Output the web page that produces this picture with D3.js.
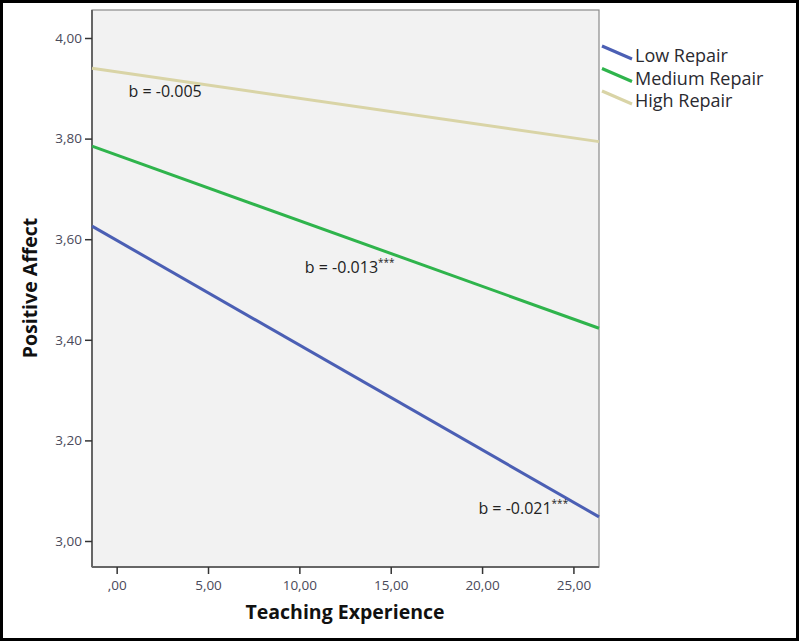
<!DOCTYPE html>
<html><head><meta charset="utf-8">
<script src="https://cdn.jsdelivr.net/npm/d3@7"></script>
<style>body{margin:0;background:#fff}svg{display:block}</style>
</head><body>
<script>
// Data
const seriesNames = ["Low Repair", "Medium Repair", "High Repair"];
const xRange = [-1.35, 26.4];            // teaching experience span of the fitted lines
const lowValues = [3.626, 3.048];        // Positive Affect at start / end
const mediumValues = [3.785, 3.423];
const highValues = [3.940, 3.794];
const xTicks = [0, 5, 10, 15, 20, 25];
const yTicks = [3.0, 3.2, 3.4, 3.6, 3.8, 4.0];
const slopeLabels = [
  {text: "b = -0.005", stars: "", x: 0.65, y: 3.882},
  {text: "b = -0.013", stars: "***", x: 10.3, y: 3.532},
  {text: "b = -0.021", stars: "***", x: 19.8, y: 3.054}
];
const colors = ["#4b5fb4", "#2fb44c", "#d9d4a6"];

const W = 800, H = 642;
const svg = d3.select("body").append("svg").attr("width", W).attr("height", H);
const L = 92, R = 599, T = 10, B = 567;
const x = d3.scaleLinear().domain(xRange).range([L, R]);
const y = d3.scaleLinear().domain([3.0, 4.0]).range([541, 38]);

// outer frame
svg.append("rect").attr("x", 1.5).attr("y", 1.5).attr("width", W - 4).attr("height", H - 4)
  .attr("fill", "#fff").attr("stroke", "#000").attr("stroke-width", 3);

// plot background
svg.append("rect").attr("x", L).attr("y", T).attr("width", R - L).attr("height", B - T)
  .attr("fill", "#f2f2f2").attr("stroke", "#8a8a8a").attr("stroke-width", 1.2);

const fmt = v => d3.format(".2f")(v).replace(".", ",").replace(/^0,/, ",");
const tickFont = "'Open Sans', sans-serif";

// y axis
const yAxis = svg.append("g").attr("transform", `translate(${L},0)`)
  .call(d3.axisLeft(y).tickValues(yTicks).tickFormat(fmt).tickSize(7).tickPadding(3));
yAxis.select(".domain").attr("d", `M0,${T}V${B}`).attr("stroke", "#666").attr("stroke-width", 2);
yAxis.selectAll(".tick line").attr("stroke", "#333").attr("stroke-width", 1.5);
yAxis.selectAll("text").attr("font-family", tickFont).attr("font-size", 13.5).attr("fill", "#4a4a5a");

// x axis
const xAxis = svg.append("g").attr("transform", `translate(0,${B})`)
  .call(d3.axisBottom(x).tickValues(xTicks).tickFormat(fmt).tickSize(7).tickPadding(6));
xAxis.select(".domain").attr("d", `M${L},0H${R}`).attr("stroke", "#666").attr("stroke-width", 2);
xAxis.selectAll(".tick line").attr("stroke", "#333").attr("stroke-width", 1.5);
xAxis.selectAll("text").attr("font-family", tickFont).attr("font-size", 13.5).attr("fill", "#4a4a5a");

// lines
const allValues = [lowValues, mediumValues, highValues];
const line = d3.line().x(d => x(d[0])).y(d => y(d[1]));
allValues.forEach((vals, i) => {
  svg.append("path").datum(xRange.map((xv, j) => [xv, vals[j]]))
    .attr("d", line).attr("fill", "none").attr("stroke", colors[i]).attr("stroke-width", 3);
});

// slope annotations
slopeLabels.forEach(s => {
  const t = svg.append("text").attr("x", x(s.x)).attr("y", y(s.y))
    .attr("font-family", "'Open Sans', sans-serif").attr("font-size", 16).attr("fill", "#222");
  t.append("tspan").text(s.text);
  if (s.stars) t.append("tspan").attr("dy", -7).attr("font-size", 10).text(s.stars);
});

// legend
seriesNames.forEach((name, i) => {
  const y0 = 46 + i * 22.5;
  svg.append("line").attr("x1", 602).attr("y1", y0).attr("x2", 632).attr("y2", y0 + 13)
    .attr("stroke", colors[i]).attr("stroke-width", 3);
  svg.append("text").attr("x", 635).attr("y", y0 + 16).text(name)
    .attr("font-family", "'Open Sans', sans-serif").attr("font-size", 18).attr("fill", "#2a2a30");
});

// axis titles
svg.append("text").attr("x", 345).attr("y", 619).attr("text-anchor", "middle")
  .attr("font-family", "'Open Sans', sans-serif").attr("font-weight", "bold").attr("font-size", 19.5)
  .attr("fill", "#111").text("Teaching Experience");
svg.append("text").attr("transform", "translate(37,288) rotate(-90)").attr("text-anchor", "middle")
  .attr("font-family", "'Open Sans', sans-serif").attr("font-weight", "bold").attr("font-size", 19.5)
  .attr("fill", "#111").text("Positive Affect");
</script>
</body></html>
